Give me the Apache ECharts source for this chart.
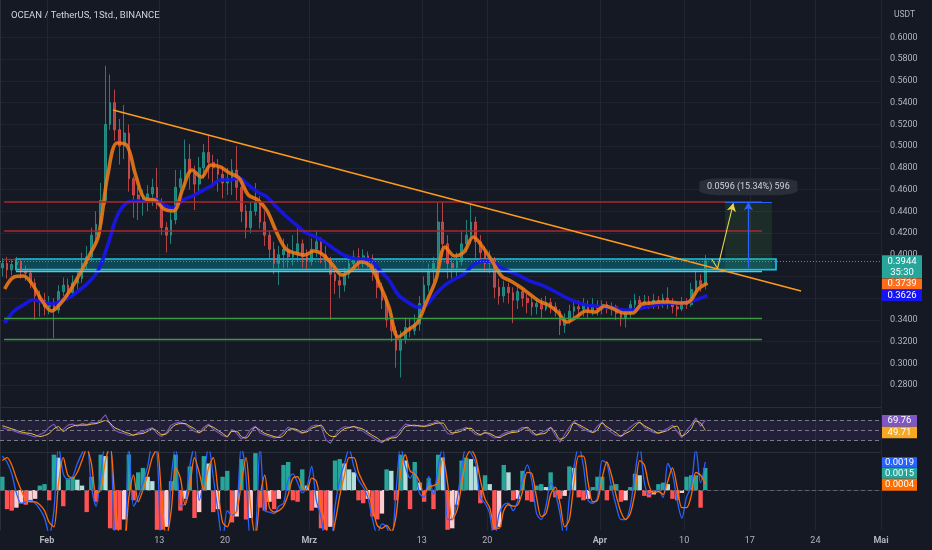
<!DOCTYPE html>
<html><head><meta charset="utf-8">
<script src="https://cdn.jsdelivr.net/npm/echarts@6/dist/echarts.min.js"></script>
<style>html,body{margin:0;padding:0;background:#151924;}#c{width:932px;height:550px;}</style>
</head><body><div id="c"></div>
<script>
// ---- axis ticks (x in days since 27 Jan 2023) ----
const tickDays = [5,17,24,33,45,52,64,73,80,87,94];
const tickLabels = ['Feb','13','20','Mrz','13','20','Apr','10','17','24','Mai'];
const monthLabels = ['Feb','Mrz','Apr','Mai'];
const priceTicks = [0.28,0.30,0.32,0.34,0.36,0.38,0.40,0.42,0.44,0.46,0.48,0.50,0.52,0.54,0.56,0.58,0.60];

// ---- 12h candles ----
const candleOpen = [0.388,0.392,0.386,0.391,0.393,0.385,0.383,0.374,0.362,0.358,
0.352,0.356,0.349,0.366,0.372,0.365,0.374,0.378,0.392,0.398,
0.418,0.428,0.450,0.520,0.540,0.515,0.500,0.512,0.470,0.455,
0.448,0.452,0.456,0.462,0.448,0.425,0.418,0.432,0.462,0.470,
0.488,0.475,0.465,0.480,0.494,0.485,0.480,0.474,0.466,0.470,
0.478,0.462,0.440,0.425,0.440,0.448,0.430,0.418,0.405,0.392,
0.400,0.405,0.398,0.402,0.410,0.398,0.394,0.405,0.412,0.400,
0.395,0.382,0.376,0.372,0.382,0.392,0.398,0.394,0.399,0.396,
0.384,0.370,0.358,0.340,0.330,0.312,0.322,0.333,0.330,0.336,
0.355,0.372,0.385,0.392,0.430,0.410,0.392,0.388,0.394,0.410,
0.418,0.430,0.412,0.402,0.392,0.396,0.370,0.362,0.370,0.365,
0.358,0.366,0.360,0.356,0.352,0.355,0.350,0.356,0.352,0.348,
0.335,0.340,0.348,0.352,0.350,0.354,0.348,0.353,0.350,0.354,
0.351,0.352,0.346,0.342,0.346,0.354,0.358,0.355,0.357,0.354,
0.358,0.356,0.360,0.356,0.352,0.350,0.356,0.354,0.368,0.376,
0.372];
const candleClose = [0.392,0.386,0.391,0.393,0.385,0.383,0.374,0.362,0.358,0.352,
0.356,0.349,0.366,0.372,0.365,0.374,0.378,0.392,0.398,0.418,
0.428,0.450,0.520,0.540,0.515,0.500,0.512,0.470,0.455,0.448,
0.452,0.456,0.462,0.448,0.425,0.418,0.432,0.462,0.470,0.488,
0.475,0.465,0.480,0.494,0.485,0.480,0.474,0.466,0.470,0.478,
0.462,0.440,0.425,0.440,0.448,0.430,0.418,0.405,0.392,0.400,
0.405,0.398,0.402,0.410,0.398,0.394,0.405,0.412,0.400,0.395,
0.382,0.376,0.372,0.382,0.392,0.398,0.394,0.399,0.396,0.384,
0.370,0.358,0.340,0.330,0.312,0.322,0.333,0.330,0.336,0.355,
0.372,0.385,0.392,0.430,0.410,0.392,0.388,0.394,0.410,0.418,
0.430,0.412,0.402,0.392,0.396,0.370,0.362,0.370,0.365,0.358,
0.366,0.360,0.356,0.352,0.355,0.350,0.356,0.352,0.348,0.335,
0.340,0.348,0.352,0.350,0.354,0.348,0.353,0.350,0.354,0.351,
0.352,0.346,0.342,0.346,0.354,0.358,0.355,0.357,0.354,0.358,
0.356,0.360,0.356,0.352,0.350,0.356,0.354,0.368,0.376,0.372,
0.3944];
const candleHigh = [0.397,0.398,0.396,0.398,0.396,0.390,0.386,0.378,0.367,0.365,
0.362,0.360,0.372,0.379,0.378,0.381,0.384,0.402,0.408,0.425,
0.440,0.466,0.574,0.566,0.552,0.525,0.538,0.520,0.472,0.462,
0.460,0.464,0.470,0.480,0.452,0.430,0.440,0.478,0.478,0.506,
0.502,0.482,0.490,0.502,0.510,0.492,0.488,0.482,0.480,0.488,
0.500,0.468,0.446,0.448,0.466,0.454,0.440,0.422,0.412,0.408,
0.415,0.410,0.418,0.425,0.414,0.405,0.415,0.422,0.416,0.408,
0.398,0.390,0.382,0.388,0.398,0.404,0.406,0.405,0.403,0.400,
0.388,0.374,0.362,0.346,0.334,0.330,0.342,0.342,0.345,0.362,
0.380,0.392,0.398,0.448,0.448,0.418,0.398,0.402,0.422,0.432,
0.446,0.435,0.418,0.408,0.404,0.398,0.378,0.376,0.374,0.370,
0.372,0.370,0.364,0.362,0.360,0.360,0.362,0.360,0.356,0.350,
0.346,0.354,0.358,0.358,0.360,0.358,0.360,0.358,0.358,0.357,
0.356,0.354,0.350,0.350,0.358,0.364,0.362,0.363,0.362,0.364,
0.362,0.364,0.370,0.360,0.356,0.361,0.360,0.374,0.386,0.382,
0.3997];
const candleLow = [0.380,0.378,0.381,0.384,0.378,0.376,0.369,0.340,0.343,0.344,
0.345,0.323,0.346,0.362,0.358,0.362,0.368,0.374,0.386,0.394,
0.410,0.424,0.446,0.515,0.505,0.483,0.488,0.458,0.434,0.432,
0.436,0.440,0.445,0.442,0.418,0.402,0.410,0.428,0.452,0.462,
0.460,0.441,0.458,0.470,0.470,0.462,0.458,0.452,0.455,0.455,
0.450,0.430,0.415,0.420,0.436,0.424,0.408,0.395,0.382,0.372,
0.388,0.388,0.390,0.393,0.388,0.386,0.390,0.398,0.392,0.386,
0.340,0.364,0.360,0.366,0.378,0.386,0.386,0.388,0.388,0.376,
0.360,0.350,0.333,0.320,0.296,0.287,0.318,0.324,0.326,0.330,
0.350,0.366,0.375,0.388,0.398,0.378,0.378,0.380,0.390,0.402,
0.410,0.396,0.394,0.384,0.383,0.360,0.354,0.356,0.355,0.337,
0.350,0.352,0.346,0.344,0.345,0.342,0.348,0.346,0.343,0.326,
0.328,0.336,0.342,0.344,0.343,0.342,0.344,0.344,0.345,0.346,
0.344,0.340,0.334,0.333,0.342,0.349,0.350,0.350,0.350,0.350,
0.350,0.351,0.350,0.346,0.343,0.348,0.350,0.352,0.364,0.366,
0.368];

// ---- moving averages (daily readings) ----
const maFast = [0.3684,0.3795,0.3804,0.3721,0.3574,0.3482,0.3555,0.3675,0.3822,0.3988,
0.4172,0.4734,0.5029,0.5010,0.4725,0.4513,0.4504,0.4421,0.4403,0.4605,
0.4780,0.4715,0.4826,0.4808,0.4752,0.4706,0.4550,0.4504,0.4403,0.4209,
0.4052,0.4015,0.3997,0.4034,0.3997,0.3905,0.3813,0.3859,0.3933,0.3896,
0.3730,0.3518,0.3242,0.3307,0.3371,0.3565,0.3767,0.4071,0.3988,0.4025,
0.4163,0.4071,0.3942,0.3804,0.3758,0.3703,0.3638,0.3574,0.3537,0.3472,
0.3380,0.3426,0.3482,0.3472,0.3528,0.3500,0.3463,0.3463,0.3546,0.3555,
0.3565,0.3565,0.3555,0.3565,0.3684,0.3739];
const maSlow = [0.3371,0.3482,0.3537,0.3583,0.3565,0.3546,0.3574,0.3611,0.3675,0.3749,
0.3859,0.4089,0.4356,0.4476,0.4494,0.4494,0.4513,0.4458,0.4430,0.4504,
0.4540,0.4586,0.4632,0.4688,0.4688,0.4706,0.4642,0.4577,0.4531,0.4439,
0.4356,0.4283,0.4209,0.4172,0.4126,0.4062,0.4006,0.3969,0.3960,0.3951,
0.3859,0.3767,0.3629,0.3565,0.3518,0.3537,0.3638,0.3721,0.3776,0.3822,
0.3905,0.3942,0.3933,0.3877,0.3840,0.3804,0.3758,0.3730,0.3693,0.3647,
0.3601,0.3565,0.3537,0.3528,0.3518,0.3509,0.3491,0.3491,0.3509,0.3528,
0.3546,0.3555,0.3555,0.3565,0.3592,0.3626];

// ---- RSI (12h readings) ----
const rsi = [55,52,50,47,44,43,40,37,42,46,
56,62,50,52,60,62,58,63,61,65,
64,70,80,62,50,46,44,40,40,46,
47,52,55,44,38,46,60,64,66,62,
55,48,45,56,62,52,46,40,37,52,
44,33,38,52,58,45,41,38,35,38,
46,56,52,48,44,50,58,60,58,32,
25,40,52,57,56,58,52,48,42,36,
30,26,34,37,40,52,62,60,58,60,
57,62,64,68,58,44,42,50,52,56,
50,42,40,47,41,35,38,44,47,48,
50,56,54,44,40,46,50,56,40,27,
42,56,68,58,52,48,46,58,66,52,
46,40,38,48,56,63,66,56,50,46,
44,49,54,60,48,36,50,60,74,58,
69.76];
const rsiMa = [59,56,53,50,47,45,44,41,38,40,
44,53,57,48,54,58,60,60,60,62,
63,66,69,64,55,51,47,44,41,43,
44,48,53,49,42,43,54,61,63,63,
58,53,46,51,59,56,50,44,38,48,
48,38,35,45,56,50,44,41,38,36,
40,51,53,51,46,47,54,57,60,47,
39,38,46,53,55,57,55,52,46,40,
35,29,31,35,36,45,57,59,60,58,
58,59,62,64,64,52,45,46,49,53,
54,46,42,45,44,39,36,40,44,46,
47,52,56,48,42,43,45,55,46,33,
36,48,64,61,56,51,46,51,64,57,
51,45,39,44,49,58,65,59,54,49,
45,47,50,56,58,39,44,53,68,64,
49.71];
const rsiLevels = [70,50,30];

// ---- MACD (12h readings) ----
const macdHist = [0.0009,-0.0013,-0.0014,-0.0012,-0.0009,-0.0010,-0.0008,-0.0006,0.0003,0.0004,
-0.0007,0.0024,0.0022,-0.0011,0.0008,0.0009,0.0007,0.0003,-0.0015,0.0009,
-0.0008,0.0024,0.0023,-0.0026,-0.0027,-0.0027,-0.0020,0.0024,-0.0007,0.0012,
0.0015,0.0009,0.0006,-0.0027,-0.0027,-0.0025,0.0006,0.0024,-0.0014,-0.0006,
0.0016,-0.0019,-0.0015,0.0023,0.0018,-0.0015,-0.0013,0.0009,0.0013,-0.0022,
-0.0018,0.0021,-0.0020,-0.0019,0.0025,-0.0012,-0.0014,-0.0008,-0.0013,-0.0006,
0.0017,0.0019,-0.0007,-0.0008,0.0014,0.0003,-0.0014,-0.0012,-0.0026,-0.0027,
-0.0025,0.0020,0.0021,0.0018,0.0014,0.0012,-0.0007,-0.0009,-0.0006,-0.0018,
-0.0020,-0.0016,0.0014,0.0013,-0.0007,0.0024,0.0020,-0.0013,0.0019,0.0005,
-0.0008,0.0008,-0.0013,0.0024,0.0022,-0.0027,-0.0026,-0.0010,0.0020,0.0022,
0.0021,0.0016,-0.0009,0.0010,0.0004,-0.0027,-0.0025,0.0017,0.0012,-0.0007,
-0.0006,0.0013,-0.0007,-0.0008,0.0003,0.0004,0.0002,0.0012,-0.0005,-0.0006,
-0.0004,0.0016,0.0015,-0.0005,-0.0007,-0.0006,0.0002,0.0009,0.0009,-0.0007,
0.0003,0.0004,-0.0008,-0.0007,0.0002,0.0011,0.0010,-0.0004,-0.0005,-0.0003,
0.0004,0.0005,0.0004,-0.0006,-0.0007,-0.0002,0.0009,0.0010,0.0010,-0.0012,
0.0015];
const macdLine = [0.0023,0.0019,0.0011,-0.0002,-0.0009,-0.0008,-0.0007,-0.0009,-0.0013,-0.0019,
-0.0030,-0.0014,0.0030,0.0011,0.0007,0.0009,0.0018,0.0025,0.0032,0.0003,
-0.0011,0.0011,0.0030,0.0030,-0.0032,-0.0035,-0.0035,0.0030,-0.0011,-0.0005,
0.0005,0.0016,0.0030,0.0025,-0.0035,-0.0035,0.0007,0.0030,-0.0011,-0.0009,
0.0016,0.0030,-0.0007,0.0007,0.0030,0.0009,-0.0014,-0.0035,-0.0014,-0.0017,
-0.0014,0.0030,0.0009,-0.0035,-0.0030,0.0030,-0.0014,-0.0015,-0.0016,-0.0011,
-0.0009,0.0007,0.0011,0.0005,-0.0002,0.0002,0.0016,-0.0007,-0.0018,-0.0035,
-0.0035,-0.0011,0.0007,0.0018,0.0028,0.0016,0.0007,0.0002,-0.0005,-0.0020,
-0.0030,-0.0023,-0.0025,-0.0035,-0.0002,0.0030,0.0016,0.0008,0.0013,-0.0002,
-0.0005,0.0009,-0.0003,0.0016,0.0030,-0.0020,-0.0020,-0.0007,0.0014,0.0030,
0.0025,0.0018,-0.0005,-0.0009,-0.0016,-0.0035,-0.0016,-0.0010,-0.0009,-0.0014,
-0.0007,0.0007,0.0017,0.0006,-0.0016,-0.0020,-0.0011,0.0005,-0.0002,-0.0016,
-0.0035,-0.0005,0.0016,0.0030,0.0016,-0.0007,-0.0009,-0.0005,0.0020,0.0018,
0.0002,-0.0011,-0.0020,-0.0020,-0.0011,0.0011,0.0030,0.0005,-0.0003,-0.0001,
0.0000,-0.0005,0.0018,0.0011,-0.0007,-0.0019,-0.0005,0.0003,0.0028,0.0005,
0.0019];
const macdSignal = [0.0020,0.0022,0.0017,0.0008,0.0000,-0.0007,-0.0008,-0.0008,-0.0010,-0.0014,
-0.0022,-0.0025,0.0005,0.0022,0.0010,0.0008,0.0012,0.0020,0.0028,0.0018,
-0.0002,0.0000,0.0020,0.0030,-0.0005,-0.0032,-0.0035,-0.0005,0.0010,-0.0008,
0.0000,0.0010,0.0022,0.0028,-0.0005,-0.0032,-0.0015,0.0015,0.0008,-0.0010,
0.0002,0.0022,0.0012,0.0000,0.0015,0.0022,0.0000,-0.0022,-0.0025,-0.0016,
-0.0015,0.0005,0.0022,-0.0012,-0.0032,-0.0005,0.0010,-0.0012,-0.0015,-0.0014,
-0.0011,-0.0003,0.0008,0.0009,0.0002,0.0000,0.0008,0.0006,-0.0010,-0.0025,
-0.0035,-0.0022,-0.0004,0.0010,0.0022,0.0022,0.0012,0.0005,-0.0001,-0.0012,
-0.0024,-0.0026,-0.0024,-0.0028,-0.0018,0.0012,0.0024,0.0013,0.0011,0.0006,
-0.0003,0.0002,0.0003,0.0005,0.0022,0.0005,-0.0020,-0.0014,0.0003,0.0022,
0.0027,0.0022,0.0007,-0.0006,-0.0012,-0.0025,-0.0026,-0.0014,-0.0010,-0.0011,
-0.0010,-0.0001,0.0012,0.0011,-0.0005,-0.0018,-0.0016,-0.0003,0.0002,-0.0009,
-0.0025,-0.0020,0.0005,0.0023,0.0023,0.0005,-0.0008,-0.0007,0.0008,0.0019,
0.0010,-0.0004,-0.0015,-0.0020,-0.0016,-0.0002,0.0020,0.0017,0.0003,-0.0002,
-0.0001,-0.0003,0.0006,0.0015,0.0002,-0.0012,-0.0012,-0.0004,0.0012,0.0010,
0.0004];

// ---- drawing annotations (data coordinates: day, price) ----
const redLevels = [0.4484, 0.4221];
const greenLevels = [0.3411, 0.3226];
const levelSpan = [0.43, 81.3];
const zone = {x1: 1.7, x2: 82.8, top: 0.3960, bottom: 0.3863, line: 0.3849};
const trendLine = [[12.06, 0.5332], [85.47, 0.3665]];
const lastPrice = 0.3944, countdown = '35:30';
const measure = {x1: 77.36, x2: 82.35, from: 0.3877, to: 0.4484, arrowX: 79.85, text: '0.0596 (15.34%) 596', textPrice: 0.4626};
const pathArrow = [[75.94, 0.3958], [76.56, 0.3875], [78.24, 0.4473]];

const X_MAX = 94;
const xAt = i => i * 0.5 + 0.25;
const dayAt = d => d + 0.5;

const chart = echarts.init(document.getElementById('c'));
const FONT = 'Roboto, sans-serif';
const gridLeft = 0, gridRight = 51;

const seg = (a, b, style, endSym) => [
  {coord: a, lineStyle: style, symbol: 'none'},
  {coord: b, symbol: endSym || 'none', symbolSize: endSym ? [7, 8] : 0}
];

const annotationLines = [];
redLevels.forEach(p => annotationLines.push(seg([levelSpan[0], p], [levelSpan[1], p], {color: '#a8282f', width: 1.6, type: 'solid'})));
greenLevels.forEach(p => annotationLines.push(seg([levelSpan[0], p], [levelSpan[1], p], {color: '#3d9a42', width: 1.3, type: 'solid'})));
annotationLines.push(seg([0.3, zone.top], [zone.x1, zone.top], {color: '#a8282f', width: 1.4, type: 'solid'}));
annotationLines.push(seg([zone.x1, zone.line], [levelSpan[1], zone.line], {color: '#4dd0e1', width: 1.4, type: 'solid'}));
annotationLines.push(seg(trendLine[0], trendLine[1], {color: '#ff9b1a', width: 1.5, type: 'solid'}));
annotationLines.push(seg([measure.x1, measure.to], [measure.x2, measure.to], {color: '#2962ff', width: 1, type: 'solid'}));
annotationLines.push(seg([measure.arrowX, measure.from], [measure.arrowX, measure.to], {color: '#2962ff', width: 1.3, type: 'solid'}, 'arrow'));
annotationLines.push(seg(pathArrow[0], pathArrow[1], {color: '#e8d44a', width: 1.1, type: 'solid'}));
annotationLines.push(seg(pathArrow[1], pathArrow[2], {color: '#e8d44a', width: 1.1, type: 'solid'}, 'arrow'));
annotationLines.push(seg([0, lastPrice], [X_MAX, lastPrice], {color: '#26a69a', width: 1, type: [1, 2]}));

const tag = (x, y, w, h, dy, bg, text, fs) => ({
  coord: [x, y], symbol: 'rect', symbolSize: [w, h], symbolOffset: [w / 2 + 1, dy],
  itemStyle: {color: bg},
  label: {show: true, position: 'inside', formatter: text, color: '#ffffff', fontSize: fs || 9.5, fontFamily: FONT, lineHeight: 11}
});

const histColor = p => {
  const v = macdHist[p.dataIndex];
  const prev = p.dataIndex > 0 ? macdHist[p.dataIndex - 1] : 0;
  if (v >= 0) return v >= prev ? '#26a69a' : '#b2dfdb';
  return v <= prev ? '#ff5252' : '#ffcdd2';
};

const xBase = (gi, showLabels) => ({
  type: 'value', gridIndex: gi, min: 0, max: X_MAX,
  axisLine: {show: true, lineStyle: {color: '#2a2e39', width: 1}},
  axisTick: {show: false, customValues: tickDays},
  splitLine: {show: true, lineStyle: {color: '#222632', width: 1}},
  axisLabel: showLabels ? {
    show: true, customValues: tickDays, margin: 6, color: '#b2b5be', fontSize: 9, fontFamily: FONT,
    formatter: v => {
      const k = tickDays.indexOf(Math.round(v));
      if (k < 0) return '';
      const t = tickLabels[k];
      return monthLabels.includes(t) ? '{m|' + t + '}' : t;
    },
    rich: {m: {fontWeight: 'bold', color: '#b2b5be', fontSize: 9, fontFamily: FONT}}
  } : {show: false}
});

const option = {
  backgroundColor: '#151924',
  animation: false,
  title: [
    {text: 'OCEAN / TetherUS, 1Std., BINANCE', left: 6, top: 6, textStyle: {color: '#d1d4dc', fontSize: 9.5, fontWeight: 'normal', fontFamily: FONT}},
    {text: 'USDT', left: 889, top: 5, textStyle: {color: '#b2b5be', fontSize: 8.5, fontWeight: 'normal', fontFamily: FONT}}
  ],
  grid: [
    {left: gridLeft, right: gridRight, top: 0, height: 407},
    {left: gridLeft, right: gridRight, top: 407, height: 45},
    {left: gridLeft, right: gridRight, top: 452, height: 78}
  ],
  xAxis: [xBase(0, false), xBase(1, false), xBase(2, true)],
  yAxis: [
    {type: 'value', gridIndex: 0, position: 'right', min: 0.25976, max: 0.63453,
     axisLine: {show: true, lineStyle: {color: '#2a2e39'}},
     axisTick: {show: false, customValues: priceTicks},
     splitLine: {show: true, lineStyle: {color: '#1f2330', width: 1}},
     axisLabel: {customValues: priceTicks, formatter: v => v.toFixed(4), color: '#b2b5be', fontSize: 9, fontFamily: FONT, margin: 9}},
    {type: 'value', gridIndex: 1, position: 'right', min: 8.1, max: 95.1,
     axisLine: {show: true, lineStyle: {color: '#2a2e39'}}, axisTick: {show: false}, splitLine: {show: false}, axisLabel: {show: false}},
    {type: 'value', gridIndex: 2, position: 'right', min: -0.002714, max: 0.002579,
     axisLine: {show: true, lineStyle: {color: '#2a2e39'}}, axisTick: {show: false}, splitLine: {show: false}, axisLabel: {show: false}}
  ],
  series: [
    {
      type: 'candlestick', xAxisIndex: 0, yAxisIndex: 0, z: 2,
      data: candleOpen.map((o, i) => [xAt(i), o, candleClose[i], candleLow[i], candleHigh[i]]),
      encode: {x: 0, y: [1, 2, 3, 4]},
      barWidth: 2.2,
      itemStyle: {color: '#26a69a', color0: '#ef5350', borderColor: '#26a69a', borderColor0: '#ef5350', borderWidth: 1, opacity: 0.72},
      markArea: {
        silent: true,
        data: [
          [{coord: [zone.x1, zone.top], itemStyle: {color: 'rgba(0,172,193,0.32)', borderColor: '#1fc3dc', borderWidth: 1.6}}, {coord: [zone.x2, zone.bottom]}],
          [{coord: [measure.x1, measure.to], itemStyle: {color: 'rgba(76,175,80,0.13)', borderWidth: 0}}, {coord: [measure.x2, measure.from]}]
        ]
      }
    },
    {
      type: 'line', xAxisIndex: 0, yAxisIndex: 0, z: 4, showSymbol: false, smooth: 0.35,
      data: maFast.map((v, d) => [dayAt(d), v]),
      lineStyle: {color: '#f07a16', width: 3.6, opacity: 0.88}
    },
    {
      type: 'line', xAxisIndex: 0, yAxisIndex: 0, z: 3, showSymbol: false, smooth: 0.35,
      data: maSlow.map((v, d) => [dayAt(d), v]),
      lineStyle: {color: '#1717e6', width: 3.6, opacity: 0.95},
      markLine: {silent: true, symbol: ['none', 'none'], label: {show: false}, animation: false, data: annotationLines},
      markPoint: {
        silent: true,
        data: [
          tag(X_MAX, lastPrice, 40, 23, 6, '#26a69a', lastPrice.toFixed(4) + '\n' + countdown),
          tag(X_MAX, maFast[maFast.length - 1], 40, 11, 1, '#ff6d1a', maFast[maFast.length - 1].toFixed(4)),
          tag(X_MAX, maSlow[maSlow.length - 1], 40, 11.4, 0, '#1414f5', maSlow[maSlow.length - 1].toFixed(4)),
          {coord: [measure.arrowX, measure.textPrice], symbol: 'roundRect', symbolSize: [98, 17],
           itemStyle: {color: '#2a2e39'},
           label: {show: true, position: 'inside', formatter: measure.text, color: '#d1d4dc', fontSize: 9, fontFamily: FONT}}
        ]
      }
    },
    {
      type: 'line', xAxisIndex: 1, yAxisIndex: 1, showSymbol: false, z: 3,
      data: rsi.map((v, i) => [xAt(i), v]),
      lineStyle: {color: '#7e57c2', width: 1.1},
      markArea: {silent: true, data: [[{yAxis: rsiLevels[2], itemStyle: {color: 'rgba(126,87,194,0.13)'}}, {yAxis: rsiLevels[0]}]]},
      markLine: {silent: true, symbol: ['none', 'none'], label: {show: false},
        lineStyle: {color: '#787b86', type: [4, 3], width: 1},
        data: rsiLevels.map(v => ({yAxis: v}))},
      markPoint: {silent: true, data: [tag(X_MAX, rsi[rsi.length - 1], 35, 11.7, 0.7, '#7e57c2', rsi[rsi.length - 1].toFixed(2))]}
    },
    {
      type: 'line', xAxisIndex: 1, yAxisIndex: 1, showSymbol: false, z: 4, smooth: 0.3,
      data: rsiMa.map((v, i) => [xAt(i), v]),
      lineStyle: {color: '#f2c93a', width: 1},
      markPoint: {silent: true, data: [tag(X_MAX, rsiMa[rsiMa.length - 1], 35, 11.6, 2, '#f7a823', rsiMa[rsiMa.length - 1].toFixed(2))]}
    },
    {
      type: 'bar', xAxisIndex: 2, yAxisIndex: 2, z: 2,
      data: macdHist.map((v, i) => [xAt(i), v]),
      barWidth: 4.4,
      itemStyle: {color: histColor},
      markLine: {silent: true, symbol: ['none', 'none'], label: {show: false},
        lineStyle: {color: '#5d606b', type: [4, 3], width: 1}, data: [{yAxis: 0}]},
      markPoint: {silent: true, data: [tag(X_MAX, macdHist[macdHist.length - 1], 35, 11, 5.3, '#26a69a', macdHist[macdHist.length - 1].toFixed(4))]}
    },
    {
      type: 'line', xAxisIndex: 2, yAxisIndex: 2, showSymbol: false, z: 3, smooth: 0.3,
      data: macdLine.map((v, i) => [xAt(i), v]),
      lineStyle: {color: '#2962ff', width: 1.3},
      markPoint: {silent: true, data: [tag(X_MAX, macdLine[macdLine.length - 1], 35, 10.4, 0.5, '#2962ff', macdLine[macdLine.length - 1].toFixed(4))]}
    },
    {
      type: 'line', xAxisIndex: 2, yAxisIndex: 2, showSymbol: false, z: 4, smooth: 0.3,
      data: macdSignal.map((v, i) => [xAt(i), v]),
      lineStyle: {color: '#ff6d00', width: 1.3},
      markPoint: {silent: true, data: [tag(X_MAX, macdSignal[macdSignal.length - 1], 35, 12, 0.6, '#ff6d00', macdSignal[macdSignal.length - 1].toFixed(4))]}
    }
  ]
};
chart.setOption(option);
</script>
</body></html>
